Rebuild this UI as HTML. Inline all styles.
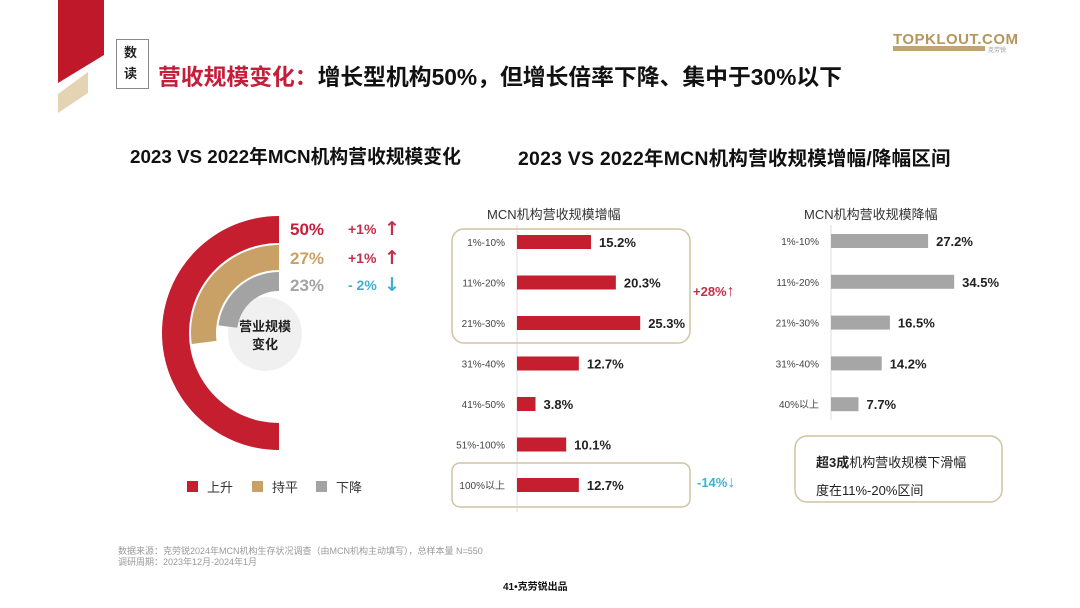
<!DOCTYPE html>
<html><head><meta charset="utf-8">
<style>
body{margin:0;background:#fff;}
#root{position:relative;width:1080px;height:608px;overflow:hidden;background:#fff;font-family:"Liberation Sans","Noto Sans CJK SC",sans-serif;}
.abs{position:absolute;white-space:nowrap;}
</style></head>
<body>
<div id="root">
<svg width="1080" height="608" style="position:absolute;left:0;top:0">
  <polygon points="58,0 104,0 104,55 58,83" fill="#c0182b"/>
  <polygon points="58,94 88,72 88,93 58,113" fill="#e4d4b4"/>
  <rect x="116.5" y="39.5" width="32" height="49" fill="#fff" stroke="#888"/>
  <text x="893" y="44" font-family="Liberation Sans" font-weight="bold" font-size="15" fill="#b5965c" textLength="125">TOPKLOUT.COM</text>
  <rect x="893" y="46" width="92" height="5" fill="#c1a473"/>
  <text x="988" y="52" font-size="6" fill="#999" font-family="Liberation Sans, Noto Sans CJK SC, sans-serif">克劳锐</text>
  <g id="donut"></g>
  <g id="mid"></g>
  <g id="right"></g>
  <rect x="452" y="229" width="238" height="114" rx="12" fill="none" stroke="#d2c4a0" stroke-width="1.5"/>
  <rect x="452" y="463" width="238" height="44" rx="8" fill="none" stroke="#d2c4a0" stroke-width="1.5"/>
  <rect x="795" y="436" width="207" height="66" rx="12" fill="none" stroke="#d2c4a0" stroke-width="1.5"/>
</svg>

<div class="abs" style="left:124px;top:42px;font-size:13px;font-weight:bold;line-height:21px;color:#222">数<br>读</div>
<div class="abs" style="left:158px;top:59px;font-size:22.8px;font-weight:bold;color:#111"><span style="color:#c41e3a">营收规模变化：</span>增长型机构50%，但增长倍率下降、集中于30%以下</div>

<div class="abs" style="left:130px;top:142px;font-size:18.8px;font-weight:bold;color:#111">2023 VS 2022年MCN机构营收规模变化</div>
<div class="abs" style="left:518px;top:142px;font-size:19.5px;font-weight:bold;color:#111;letter-spacing:0.2px">2023 VS 2022年MCN机构营收规模增幅/降幅区间</div>

<div class="abs" style="left:487px;top:204px;font-size:13px;color:#333">MCN机构营收规模增幅</div>
<div class="abs" style="left:804px;top:204px;font-size:13px;color:#333">MCN机构营收规模降幅</div>

<div class="abs" style="left:693px;top:283px;font-size:13px;font-weight:bold;color:#c4304a">+28%<span style="font-size:16px;font-weight:normal">↑</span></div>
<div class="abs" style="left:697px;top:474px;font-size:13px;font-weight:bold;color:#3fb0d0">-14%<span style="font-size:16px;font-weight:normal">↓</span></div>

<div class="abs" style="left:816px;top:452px;font-size:13px;color:#222"><b>超3成</b>机构营收规模下滑幅</div>
<div class="abs" style="left:816px;top:480px;font-size:13px;color:#222">度在11%-20%区间</div>

<div class="abs" style="left:239px;top:318px;font-size:13px;font-weight:bold;color:#222;text-align:center;line-height:18px">营业规模<br>变化</div>

<div class="abs" style="left:118px;top:546px;font-size:9px;color:#999;line-height:11px">数据来源：克劳锐2024年MCN机构生存状况调查（由MCN机构主动填写），总样本量 N=550<br>调研周期：2023年12月-2024年1月</div>
<div class="abs" style="left:503px;top:578px;font-size:10px;font-weight:bold;color:#111">41•克劳锐出品</div>
</div>

<script>
const donutCats = ['上升','持平','下降'];
const donutValues = [50, 27, 23];
const donutChanges = ['+1%','+1%','- 2%'];
const donutArrows = ['↑','↑','↓'];
const growthCats = ['1%-10%','11%-20%','21%-30%','31%-40%','41%-50%','51%-100%','100%以上'];
const growthValues = [15.2, 20.3, 25.3, 12.7, 3.8, 10.1, 12.7];
const declineCats = ['1%-10%','11%-20%','21%-30%','31%-40%','40%以上'];
const declineValues = [27.2, 34.5, 16.5, 14.2, 7.7];

const NS = 'http://www.w3.org/2000/svg';
function mk(tag, attrs, parent){const e=document.createElementNS(NS,tag);for(const k in attrs)e.setAttribute(k,attrs[k]);parent.appendChild(e);return e;}

const dg = document.getElementById('donut');
const cx=279, cy=333;
const rings=[[117,90],[88,63],[61,42]];
const colors=['#c41e2f','#c9a065','#a3a3a3'];
const labelColors=['#c41e3a','#c9a065','#a3a3a3'];
const chColors=['#c4304a','#c4304a','#3fb0d0'];
function angleScale(v){return v/50*Math.PI;}
function pt(r,a){return [cx - r*Math.sin(a), cy - r*Math.cos(a)];}
const cc=mk('circle',{cx:265,cy:334,r:37,fill:'#f0f0f0'},dg);


donutValues.forEach((v,i)=>{
  const [ro,ri]=rings[i]; const a=angleScale(v);
  const p1=pt(ro,0),p2=pt(ro,a),p3=pt(ri,a),p4=pt(ri,0);
  const large=a>Math.PI?1:0;
  const d=`M${p1} A${ro},${ro} 0 ${large} 0 ${p2} L${p3} A${ri},${ri} 0 ${large} 1 ${p4} Z`;
  const p=mk('path',{d:d,fill:colors[i]},dg);
  
  
  const y=cy-ro+19;
  const t=mk('text',{x:290,y:y,'font-size':17,'font-weight':'bold',fill:labelColors[i],'font-family':'Liberation Sans Narrow, Liberation Sans, sans-serif'},dg);
  t.textContent=v+'%';
  
  
  const c=mk('text',{x:348,y:y-1,'font-size':14,'font-weight':'bold',fill:chColors[i],'font-family':'Liberation Sans, sans-serif'},dg);
  c.textContent=donutChanges[i];
  
  
  const ar=mk('text',{x:384,y:y,'font-size':19,'font-weight':'bold',fill:chColors[i],'font-family':'DejaVu Sans, sans-serif'},dg);
  ar.textContent=donutArrows[i];
  
  
});
donutCats.forEach((c,i)=>{
  const x=[187,252,316][i];
  const r=mk('rect',{x:x,y:481,width:11,height:11,fill:colors[i]},dg);
  
  
  const t=mk('text',{x:x+20,y:492,'font-size':13,fill:'#333','font-family':'Liberation Sans, Noto Sans CJK SC, sans-serif'},dg);
  t.textContent=c;
  
  
});

function barChart(gid, cats, vals, x0, y0, dy, pxPer, color, axisBottom, prefix){
  const g=document.getElementById(gid);
  const ax=mk('line',{x1:x0,y1:225,x2:x0,y2:axisBottom,stroke:'#ddd','stroke-width':1},g);
  
  
  const xs=v=>v*pxPer;
  cats.forEach((c,i)=>{
    const y=y0+i*dy;
    const l=mk('text',{x:x0-12,y:y+4,'font-size':10,fill:'#444','text-anchor':'end','font-family':'Liberation Sans, Noto Sans CJK SC, sans-serif'},g);
    l.textContent=c;
    
    
    const b=mk('rect',{x:x0,y:y-7,width:xs(vals[i]),height:14,fill:color},g);
    
    
    const v=mk('text',{x:x0+xs(vals[i])+8,y:y+5,'font-size':13,'font-weight':'bold',fill:'#222','font-family':'Liberation Sans, sans-serif'},g);
    v.textContent=vals[i].toFixed(1)+'%';
    
    
  });
}
barChart('mid', growthCats, growthValues, 517, 242, 40.5, 4.87, '#c41e2f', 512, 'growth');
barChart('right', declineCats, declineValues, 831, 241, 40.8, 3.57, '#a6a6a6', 420, 'decline');
</script>
</body></html>
